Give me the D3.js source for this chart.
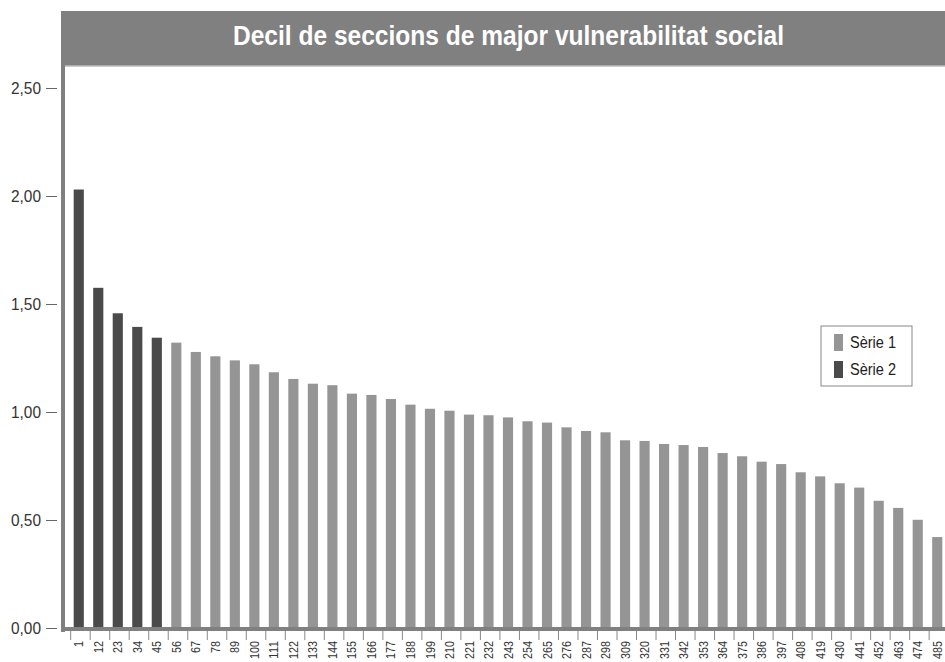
<!DOCTYPE html>
<html>
<head>
<meta charset="utf-8">
<script src="https://cdn.jsdelivr.net/npm/d3@7"></script>
<style>
  body { margin: 0; background: #fff; }
  svg { display: block; }
</style>
</head>
<body>
<div id="vis"></div>
<script>
// seccions (eix X)
var categories = ["1","12","23","34","45","56","67","78","89","100","111","122","133","144","155",
  "166","177","188","199","210","221","232","243","254","265","276","287","298","309","320",
  "331","342","353","364","375","386","397","408","419","430","441","452","463","474","485"];

// valors llegits del gràfic
var values = [2.03,1.575,1.457,1.394,1.344,1.321,1.278,1.258,1.239,1.221,1.184,1.153,1.131,1.124,1.085,
  1.079,1.060,1.034,1.015,1.006,0.988,0.985,0.975,0.957,0.951,0.929,0.912,0.906,0.869,0.866,
  0.852,0.847,0.838,0.810,0.795,0.770,0.759,0.721,0.702,0.670,0.650,0.589,0.556,0.501,0.421];

// els 5 primers son Sèrie 2
var seriesIndex = [2,2,2,2,2,1,1,1,1,1,1,1,1,1,1,1,1,1,1,1,1,1,1,1,1,1,1,1,1,1,1,1,1,1,1,1,1,1,1,1,1,1,1,1,1];
var seriesNames = ["Sèrie 1","Sèrie 2"];
var yTicks = [0, 0.5, 1, 1.5, 2, 2.5];
var title = "Decil de seccions de major vulnerabilitat social";

var W = 945, H = 662;
var colors = {1: "#959595", 2: "#4a4a4a"};
var font = "'Liberation Sans', Arial, sans-serif";

var svg = d3.select("#vis").append("svg")
  .attr("width", W)
  .attr("height", H);

var x = d3.scaleBand()
  .domain(categories)
  .range([69, 947])
  .paddingInner(0.48)
  .paddingOuter(0.24);

var y = d3.scaleLinear()
  .domain([0, 2.5])
  .range([628, 88]);

// title band
svg.append("rect")
  .attr("x", 61).attr("y", 11)
  .attr("width", W - 61).attr("height", 55)
  .attr("fill", "#808080");
svg.append("line")
  .attr("x1", 65).attr("x2", W)
  .attr("y1", 66).attr("y2", 66)
  .attr("stroke", "#bdbdbd").attr("stroke-width", 1.5);
svg.append("text")
  .attr("x", 233).attr("y", 45)
  .attr("font-family", font)
  .attr("font-weight", "bold")
  .attr("font-size", 28)
  .attr("fill", "#fff")
  .attr("textLength", 551)
  .attr("lengthAdjust", "spacingAndGlyphs")
  .text(title);

// bars
svg.append("g").selectAll("rect")
  .data(values)
  .join("rect")
  .attr("x", function(d, i) { return x(categories[i]); })
  .attr("y", function(d) { return y(d); })
  .attr("width", x.bandwidth())
  .attr("height", function(d) { return y(0) - y(d); })
  .attr("fill", function(d, i) { return colors[seriesIndex[i]]; });

// y axis
var yAxis = svg.append("g").attr("transform", "translate(57,0)")
  .call(d3.axisLeft(y).tickValues(yTicks).tickSize(11).tickPadding(5)
    .tickFormat(function(d) { return d3.format(".2f")(d).replace(".", ","); }));
yAxis.select(".domain").remove();
yAxis.selectAll(".tick line").attr("stroke", "#666").attr("stroke-width", 1);
yAxis.selectAll(".tick text")
  .attr("font-family", font)
  .attr("font-size", 17)
  .attr("fill", "#333")
  .attr("textLength", 30)
  .attr("lengthAdjust", "spacingAndGlyphs");

// x axis
var xAxis = svg.append("g").attr("transform", "translate(0,631)")
  .call(d3.axisBottom(x).tickSize(0));
xAxis.select(".domain").remove();
xAxis.selectAll(".tick text")
  .attr("font-family", font)
  .attr("font-size", 13)
  .attr("fill", "#333")
  .attr("transform", "rotate(-90)")
  .attr("text-anchor", "end")
  .attr("x", -10)
  .attr("y", 0)
  .attr("dy", "0.35em")
  .attr("textLength", function(d) { return d.length * 6; })
  .attr("lengthAdjust", "spacingAndGlyphs");
svg.append("g").selectAll("line")
  .data(categories)
  .join("line")
  .attr("x1", function(d) { return x(d) - 3; })
  .attr("x2", function(d) { return x(d) - 3; })
  .attr("y1", 631).attr("y2", 640)
  .attr("stroke", "#888").attr("stroke-width", 1);

// axis frame lines
svg.append("rect")
  .attr("x", 61).attr("y", 66)
  .attr("width", 4).attr("height", 566)
  .attr("fill", "#808080");
svg.append("rect")
  .attr("x", 61).attr("y", 627)
  .attr("width", W - 61).attr("height", 4)
  .attr("fill", "#808080");

// legend
var legend = svg.append("g").attr("transform", "translate(821,326)");
legend.append("rect")
  .attr("width", 91).attr("height", 60)
  .attr("fill", "#fff")
  .attr("stroke", "#888").attr("stroke-width", 1);
var item = legend.selectAll("g.item")
  .data(seriesNames)
  .join("g")
  .attr("class", "item")
  .attr("transform", function(d, i) { return "translate(13," + (8 + i * 27) + ")"; });
item.append("rect")
  .attr("width", 9).attr("height", 17)
  .attr("fill", function(d, i) { return colors[i + 1]; });
item.append("text")
  .attr("x", 16).attr("y", 14)
  .attr("font-family", font)
  .attr("font-size", 16)
  .attr("fill", "#222")
  .attr("textLength", 46)
  .attr("lengthAdjust", "spacingAndGlyphs")
  .text(function(d) { return d; });
</script>
</body>
</html>
